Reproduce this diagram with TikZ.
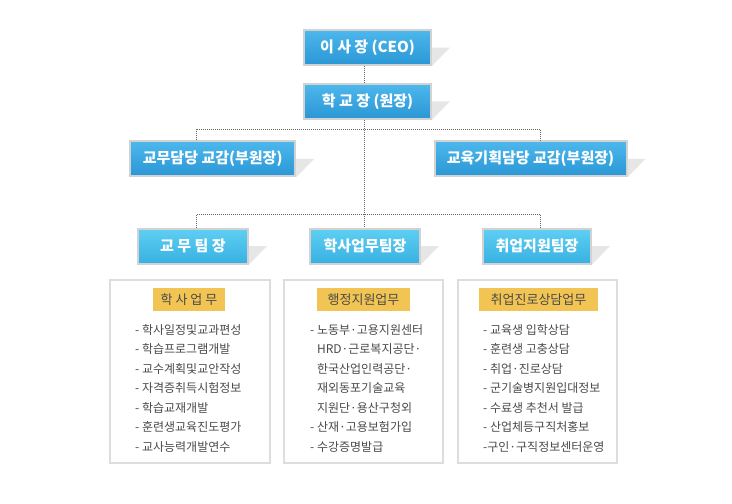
\documentclass[tikz,border=0pt]{standalone}
\usepackage{fontspec}
\setmainfont{Noto Sans CJK KR}
\definecolor{ceotop}{HTML}{4DB8EC}
\definecolor{ceobot}{HTML}{2A96D5}
\definecolor{teamtop}{HTML}{5FCFF3}
\definecolor{teambot}{HTML}{37B1E2}
\definecolor{boxline}{HTML}{D2D2D2}
\definecolor{dropgray}{HTML}{E6E6E6}
\definecolor{panelline}{HTML}{DDDDDD}
\definecolor{tagfill}{HTML}{F1C453}
\definecolor{ink}{HTML}{4A4A4A}

\begin{document}
\begin{tikzpicture}[x = 1pt, y = -1pt,
    link/.style = {draw = black!60, line width = 1pt, dash pattern = on 1pt off 1pt},
    chief/.style = {rectangle,
        draw = boxline,
        line width = 2pt,
        top color = ceotop,
        bottom color = ceobot,
        text = white,
        font = \bfseries\fontsize{15}{18}\selectfont,
        minimum height = 35pt,
        inner sep = 0pt
    },
    lead/.style = {chief, top color = teamtop, bottom color = teambot},
    panel/.style = {rectangle,
        draw = panelline,
        line width = 2pt,
        fill = white,
        minimum width = 159pt,
        minimum height = 183pt
    },
    tag/.style = {rectangle,
        fill = tagfill,
        text = ink,
        font = \fontsize{13}{15}\selectfont,
        minimum height = 23pt,
        inner sep = 0pt
    },
    duty/.style = {align = left, anchor = base west, inner sep = 0pt,
        text = ink, font = \fontsize{12}{19.5}\selectfont}
]
    \useasboundingbox (0,0) rectangle (732,504);

    \draw (367.5,47.5) node(CEO) [chief, minimum width = 127pt] {이 사 장 (CEO)};
    \draw (367.5,101.3) node(P) [chief, minimum width = 127pt] {학 교 장 (원장)};
    \draw (212.7,158.8) node(V1) [chief, minimum width = 165pt] {교무담당 교감(부원장)};
    \draw (530.5,158.8) node(V2) [chief, minimum width = 192pt] {교육기획담당 교감(부원장)};
    \draw (193,246) node(T1) [lead, minimum width = 110pt] {교 무 팀 장};
    \draw (365,246) node(T2) [lead, minimum width = 110pt] {학사업무팀장};
    \draw (537,246) node(T3) [lead, minimum width = 108pt] {취업지원팀장};
    \foreach \n in {CEO, P, V1, V2, T1, T2, T3}
        \fill [dropgray] (\n.east) -- +(18,0) -- (\n.south east) -- cycle;

    \coordinate (J1) at (364.5,129);
    \coordinate (J2) at (364.5,214);
    \draw [link] (CEO.south -| J1) -- (P.north -| J1);
    \draw [link] (P.south -| J1) -- (T2.north -| J1);
    \draw [link] ([xshift = -16pt]V1.north) |- (J1) -| ([xshift = 10pt]V2.north);
    \draw [link] ([xshift = 3.5pt]T1.north) |- (J2) -| ([xshift = 3.5pt]T3.north);

    \draw (190,371.5) node(B1) [panel, minimum width = 160pt] {};
    \draw (363.5,371.5) node(B2) [panel] {};
    \draw (537.5,371.5) node(B3) [panel] {};
    \draw (189,299.3) node(G1) [tag, minimum width = 72pt] {학 사 업 무};
    \draw (363.5,299.3) node(G2) [tag, minimum width = 93pt] {행정지원업무};
    \draw (538.5,299.3) node(G3) [tag, minimum width = 119pt] {취업진로상담업무};

    \draw (135,451) node(L1) [duty] {- 학사일정및교과편성\\
        - 학습프로그램개발\\
        - 교수계획및교안작성\\
        - 자격증취득시험정보\\
        - 학습교재개발\\
        - 훈련생교육진도평가\\
        - 교사능력개발연수};
    \draw (310,451) node(L2) [duty] {- 노동부·고용지원센터\\
        \phantom{- }HRD·근로복지공단·\\
        \phantom{- }한국산업인력공단·\\
        \phantom{- }재외동포기술교육\\
        \phantom{- }지원단·용산구청외\\
        - 산재·고용보험가입\\
        - 수강증명발급};
    \draw (483,451) node(L3) [duty] {- 교육생 입학상담\\
        - 훈련생 고충상담\\
        - 취업·진로상담\\
        - 군기술병지원입대정보\\
        - 수료생 추천서 발급\\
        - 산업체등구직처홍보\\
        -구인·구직정보센터운영};
\end{tikzpicture}
\end{document}
